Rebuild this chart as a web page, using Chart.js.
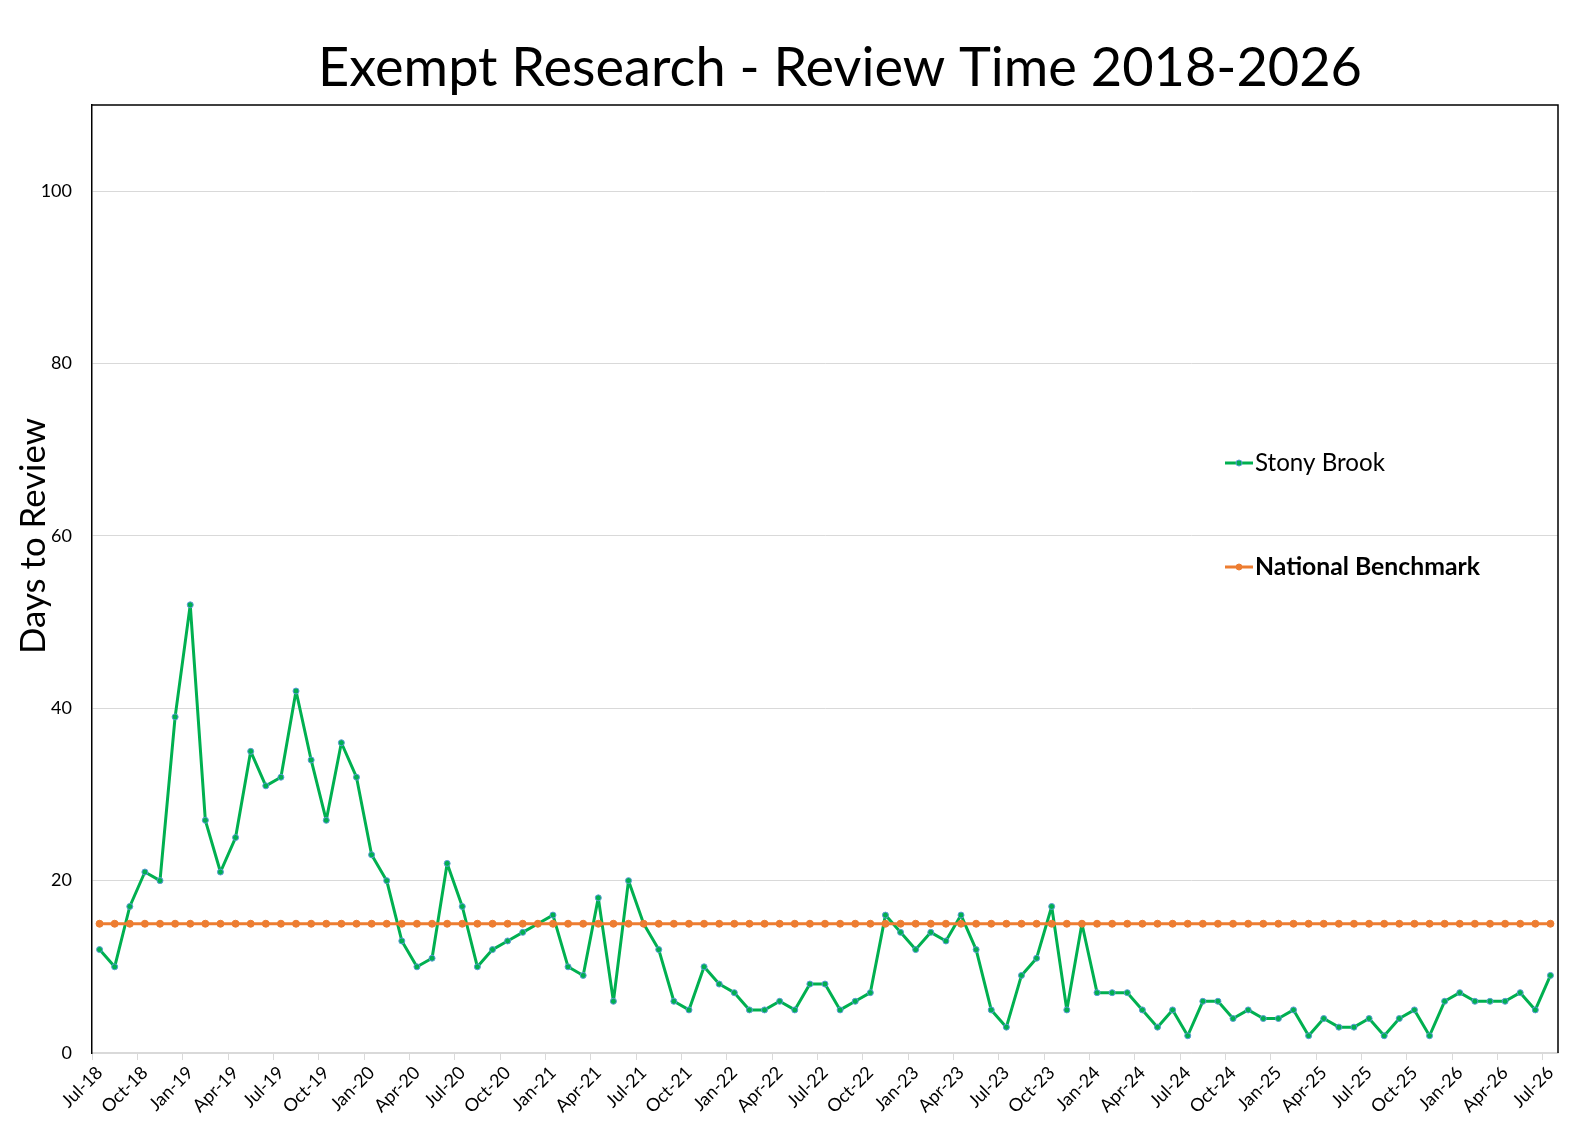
<!DOCTYPE html>
<html>
<head>
<meta charset="utf-8">
<title>Exempt Research - Review Time 2018-2026</title>
<script src="https://cdn.jsdelivr.net/npm/chart.js@4.4.1/dist/chart.umd.min.js"></script>
<style>
  html, body { margin: 0; padding: 0; background: #fff; }
  #wrap { width: 1569px; height: 1130px; position: relative; }
</style>
</head>
<body>
<div id="wrap"><canvas id="myChart"></canvas></div>
<script>
// months, Jul-18 .. Jul-26
var months = [
  "Jul-18", "Aug-18", "Sep-18", "Oct-18", "Nov-18", "Dec-18",
  "Jan-19", "Feb-19", "Mar-19", "Apr-19", "May-19", "Jun-19",
  "Jul-19", "Aug-19", "Sep-19", "Oct-19", "Nov-19", "Dec-19",
  "Jan-20", "Feb-20", "Mar-20", "Apr-20", "May-20", "Jun-20",
  "Jul-20", "Aug-20", "Sep-20", "Oct-20", "Nov-20", "Dec-20",
  "Jan-21", "Feb-21", "Mar-21", "Apr-21", "May-21", "Jun-21",
  "Jul-21", "Aug-21", "Sep-21", "Oct-21", "Nov-21", "Dec-21",
  "Jan-22", "Feb-22", "Mar-22", "Apr-22", "May-22", "Jun-22",
  "Jul-22", "Aug-22", "Sep-22", "Oct-22", "Nov-22", "Dec-22",
  "Jan-23", "Feb-23", "Mar-23", "Apr-23", "May-23", "Jun-23",
  "Jul-23", "Aug-23", "Sep-23", "Oct-23", "Nov-23", "Dec-23",
  "Jan-24", "Feb-24", "Mar-24", "Apr-24", "May-24", "Jun-24",
  "Jul-24", "Aug-24", "Sep-24", "Oct-24", "Nov-24", "Dec-24",
  "Jan-25", "Feb-25", "Mar-25", "Apr-25", "May-25", "Jun-25",
  "Jul-25", "Aug-25", "Sep-25", "Oct-25", "Nov-25", "Dec-25",
  "Jan-26", "Feb-26", "Mar-26", "Apr-26", "May-26", "Jun-26",
  "Jul-26"
];

var stonyBrook = [
  12, 10, 17, 21, 20, 39, 52, 27, 21, 25, 35, 31,
  32, 42, 34, 27, 36, 32, 23, 20, 13, 10, 11, 22,
  17, 10, 12, 13, 14, 15, 16, 10, 9, 18, 6, 20,
  15, 12, 6, 5, 10, 8, 7, 5, 5, 6, 5, 8,
  8, 5, 6, 7, 16, 14, 12, 14, 13, 16, 12, 5,
  3, 9, 11, 17, 5, 15, 7, 7, 7, 5, 3, 5,
  2, 6, 6, 4, 5, 4, 4, 5, 2, 4, 3, 3,
  4, 2, 4, 5, 2, 6, 7, 6, 6, 6, 7, 5,
  9
];

var benchmark = [
  15, 15, 15, 15, 15, 15, 15, 15, 15, 15, 15, 15,
  15, 15, 15, 15, 15, 15, 15, 15, 15, 15, 15, 15,
  15, 15, 15, 15, 15, 15, 15, 15, 15, 15, 15, 15,
  15, 15, 15, 15, 15, 15, 15, 15, 15, 15, 15, 15,
  15, 15, 15, 15, 15, 15, 15, 15, 15, 15, 15, 15,
  15, 15, 15, 15, 15, 15, 15, 15, 15, 15, 15, 15,
  15, 15, 15, 15, 15, 15, 15, 15, 15, 15, 15, 15,
  15, 15, 15, 15, 15, 15, 15, 15, 15, 15, 15, 15,
  15
];

var yTicks = [0, 20, 40, 60, 80, 100];

var titleText = "Exempt Research - Review Time 2018-2026";
var yTitle = "Days to Review";
var FONT = "Lato, 'Open Sans', sans-serif";

// font size that makes text span a given width
function fitSize(ctx, text, width, weight) {
  ctx.font = weight + " 100px " + FONT;
  return 100 * width / ctx.measureText(text).width;
}

var decorations = {
  id: "decorations",
  afterDraw: function(chart) {
    var ctx = chart.ctx;
    var a = chart.chartArea;
    ctx.save();

    // plot frame: top and right sides
    ctx.strokeStyle = "#000";
    ctx.lineWidth = 1.5;
    ctx.beginPath();
    ctx.moveTo(a.left, a.top);
    ctx.lineTo(a.right, a.top);
    ctx.lineTo(a.right, a.bottom);
    ctx.stroke();

    ctx.fillStyle = "#000";

    // title
    var s = fitSize(ctx, titleText, 1044, "normal");
    ctx.font = "normal " + s + "px " + FONT;
    ctx.textAlign = "center";
    ctx.textBaseline = "alphabetic";
    ctx.fillText(titleText, 840, 86);

    // y axis title
    s = fitSize(ctx, yTitle, 236, "normal");
    ctx.font = "normal " + s + "px " + FONT;
    ctx.save();
    ctx.translate(45, 536);
    ctx.rotate(-Math.PI / 2);
    ctx.fillText(yTitle, 0, 0);
    ctx.restore();

    // legend
    var items = [
      { ds: chart.data.datasets[0], y: 463, w: 130, weight: "normal" },
      { ds: chart.data.datasets[1], y: 567, w: 225, weight: "bold" }
    ];
    items.forEach(function(it) {
      ctx.strokeStyle = it.ds.borderColor;
      ctx.lineWidth = 3;
      ctx.beginPath();
      ctx.moveTo(1225, it.y);
      ctx.lineTo(1253, it.y);
      ctx.stroke();
      ctx.beginPath();
      ctx.arc(1239, it.y, 3, 0, Math.PI * 2);
      ctx.fillStyle = it.ds.pointBackgroundColor;
      ctx.fill();
      ctx.lineWidth = 1;
      ctx.strokeStyle = it.ds.pointBorderColor;
      ctx.stroke();
      var fs = fitSize(ctx, it.ds.label, it.w, it.weight);
      ctx.font = it.weight + " " + fs + "px " + FONT;
      ctx.fillStyle = "#000";
      ctx.textAlign = "left";
      ctx.textBaseline = "middle";
      ctx.fillText(it.ds.label, 1255, it.y);
    });

    ctx.restore();
  }
};

window.onload = function() {
  var ctx = document.getElementById("myChart").getContext("2d");
  var chart = new Chart(ctx, {
    type: "line",
    data: {
      labels: months,
      datasets: [
        {
          label: "Stony Brook",
          data: stonyBrook,
          borderColor: "#00b050",
          borderWidth: 3,
          borderJoinStyle: "round",
          pointRadius: 3,
          pointBackgroundColor: "#00b050",
          pointBorderColor: "#5b9bd5",
          pointBorderWidth: 1,
          tension: 0,
          order: 2
        },
        {
          label: "National Benchmark",
          data: benchmark,
          borderColor: "#ed7d31",
          borderWidth: 3,
          borderJoinStyle: "round",
          pointRadius: 3.5,
          pointBackgroundColor: "#ed7d31",
          pointBorderColor: "#ed7d31",
          pointBorderWidth: 1,
          tension: 0,
          order: 1
        }
      ]
    },
    options: {
      responsive: true,
      maintainAspectRatio: false,
      animation: false,
      layout: { padding: { top: 105, right: 11, left: 0, bottom: 0 } },
      plugins: {
        legend: { display: false },
        title: { display: false },
        tooltip: { enabled: false }
      },
      scales: {
        x: {
          type: "category",
          offset: true,
          afterFit: function(scale) { scale.height = 77; },
          grid: {
            offset: true,
            drawOnChartArea: false,
            drawTicks: true,
            tickLength: 7,
            tickColor: function(c) { return c.index % 3 === 0 ? "#d9d9d9" : "rgba(0,0,0,0)"; }
          },
          border: { color: "#d9d9d9", width: 1.5 },
          ticks: {
            autoSkip: false,
            maxRotation: 45,
            minRotation: 45,
            labelOffset: 0,
            padding: 2,
            color: "#000",
            font: { family: FONT, size: 18 },
            callback: function(v, i) { return i % 3 === 0 ? months[i] : ""; }
          }
        },
        y: {
          min: 0,
          max: 110,
          afterFit: function(scale) { scale.width = 92; },
          afterBuildTicks: function(scale) {
            scale.ticks = yTicks.map(function(v) { return { value: v }; });
          },
          grid: { color: "#d9d9d9", lineWidth: 1, drawTicks: false },
          border: { color: "#000", width: 1.5 },
          ticks: {
            padding: 20,
            color: "#000",
            font: { family: FONT, size: 18 }
          }
        }
      }
    },
    plugins: [decorations]
  });
};
</script>
</body>
</html>
